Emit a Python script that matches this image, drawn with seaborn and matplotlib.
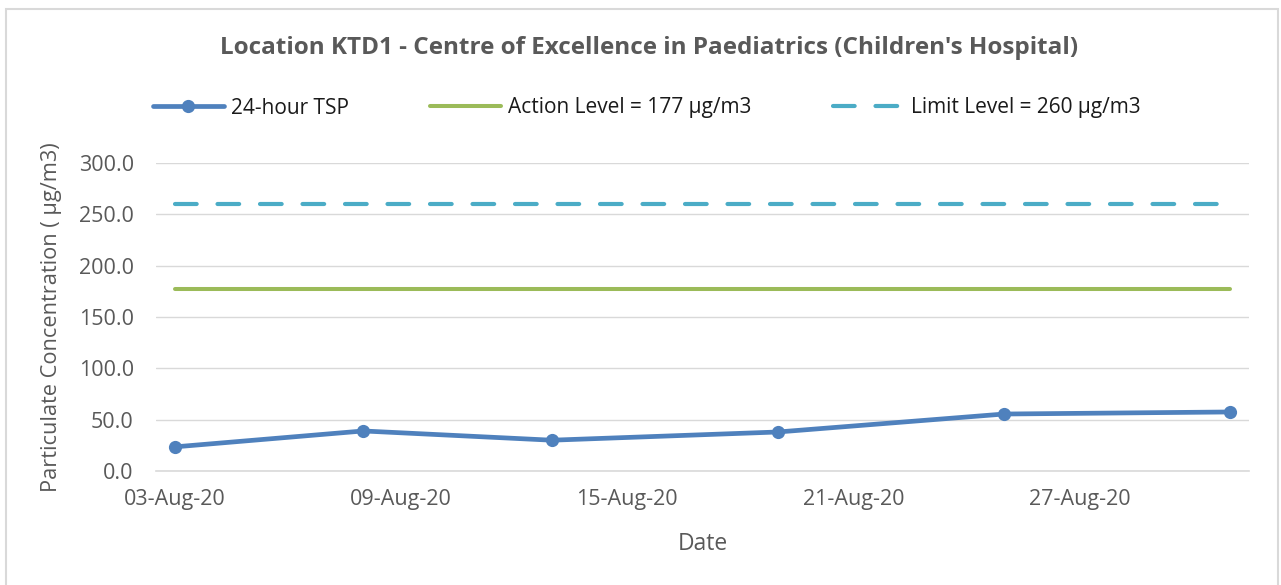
import matplotlib.pyplot as plt
from matplotlib.patches import Rectangle
import pandas as pd
import seaborn as sns

# sampling days and 24-hour TSP readings (ug/m3)
sample_dates = ["2020-08-03", "2020-08-08", "2020-08-13", "2020-08-19", "2020-08-25", "2020-08-31"]
tsp_values = [23.5, 39.0, 30.0, 38.0, 55.5, 57.5]
action_level = 177
limit_level = 260

tick_dates = ["2020-08-03", "2020-08-09", "2020-08-15", "2020-08-21", "2020-08-27"]
tick_labels = ["03-Aug-20", "09-Aug-20", "15-Aug-20", "21-Aug-20", "27-Aug-20"]
y_ticks = [0, 50, 100, 150, 200, 250, 300]

sns.set_theme(style="white")
plt.rcParams["font.family"] = ["Open Sans", "DejaVu Sans"]

grey = "#595959"
dates = pd.to_datetime(sample_dates)
# Excel date axis: each point sits in the middle of its day
x = dates + pd.Timedelta(hours=12)
df = pd.DataFrame({
    "date": x,
    "tsp": tsp_values,
    "action": [action_level] * len(x),
    "limit": [limit_level] * len(x),
})

fig = plt.figure(figsize=(12.81, 5.85), dpi=100)
ax = fig.add_axes([156 / 1281, 1 - 471 / 585, (1249 - 156) / 1281, (471 - 163) / 585])

sns.lineplot(data=df, x="date", y="tsp", ax=ax, color="#4F81BD", lw=3.4,
             marker="o", markersize=9.5, markeredgewidth=0, label="24-hour TSP",
             solid_capstyle="round")
sns.lineplot(data=df, x="date", y="action", ax=ax, color="#9BBB59", lw=2.9,
             label=f"Action Level = {action_level} µg/m3", solid_capstyle="round")
sns.lineplot(data=df, x="date", y="limit", ax=ax, color="#4BACC6", lw=3.0,
             label=f"Limit Level = {limit_level} µg/m3")
limit_line = ax.lines[-1]
limit_line.set_linestyle((0, (5.2, 5.0)))
limit_line.set_dash_capstyle("round")

ax.set_ylim(0, 300)
ax.set_yticks(y_ticks)
ax.set_yticklabels([f"{v:.1f}" for v in y_ticks])
ax.set_xlim(pd.Timestamp("2020-08-03"), pd.Timestamp("2020-09-01"))

ticks = pd.to_datetime(tick_dates)
ax.set_xticks(ticks)
ax.set_xticklabels([""] * len(ticks))
ax.set_xticks(ticks + pd.Timedelta(hours=12), minor=True)
ax.set_xticklabels(tick_labels, minor=True)
ax.tick_params(axis="x", which="major", length=6, width=1, color="#d9d9d9", direction="out")
ax.tick_params(axis="x", which="minor", length=0, pad=13, labelsize=15.5, labelcolor=grey)
ax.tick_params(axis="y", length=0, pad=16, labelsize=15.5, labelcolor=grey)

ax.grid(axis="y", color="#d9d9d9", lw=1)
ax.set_axisbelow(True)
for side in ["top", "right", "left"]:
    ax.spines[side].set_visible(False)
ax.spines["bottom"].set_color("#d9d9d9")
ax.spines["bottom"].set_linewidth(1.2)

ax.set_xlabel("Date", fontsize=16.5, color=grey, labelpad=16)
ax.set_ylabel("Particulate Concentration ( µg/m3)", fontsize=15.7, color=grey, labelpad=12)

ax.get_legend().remove()
handles, labels = ax.get_legend_handles_labels()
fig.legend(handles, labels, loc="center", bbox_to_anchor=(0.505, 1 - 108 / 585),
           ncol=3, frameon=False, fontsize=15, handlelength=3.4, columnspacing=3.9,
           handletextpad=0.35, labelcolor="#1a1a1a")

fig.text(0.507, 1 - 48 / 585,
         "Location KTD1 - Centre of Excellence in Paediatrics (Children's Hospital)",
         ha="center", va="center", fontsize=17.5, fontweight="bold", color=grey)

fig.patches.append(Rectangle((6 / 1281, -0.02), (1278 - 6) / 1281, 1.02 - 9 / 585,
                             transform=fig.transFigure, fill=False,
                             edgecolor="#d9d9d9", lw=1.5))

fig.savefig("out.png", dpi=100)
